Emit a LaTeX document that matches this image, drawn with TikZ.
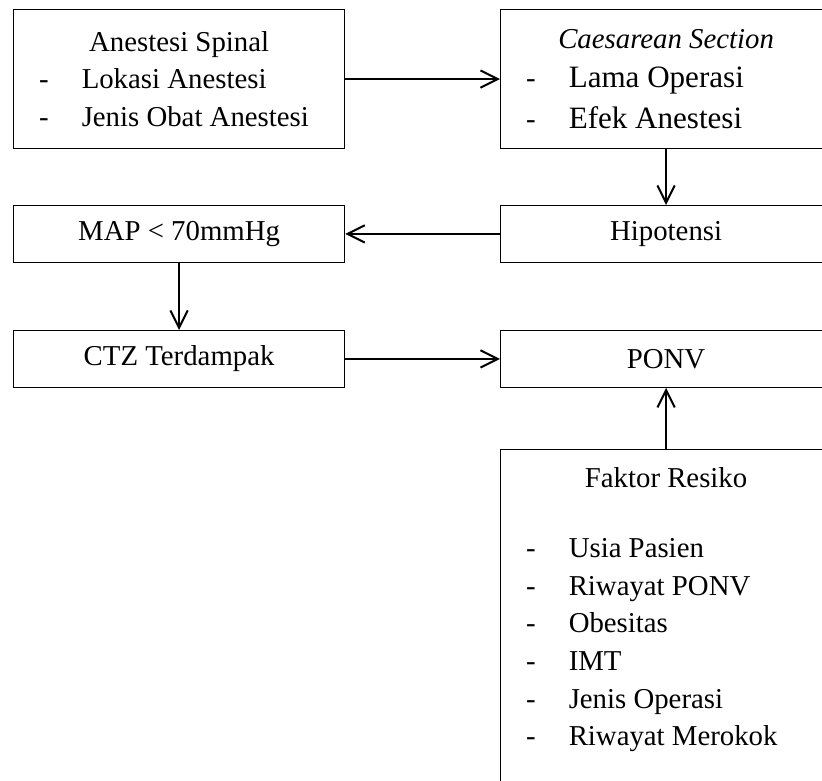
\documentclass[tikz,border=0pt]{standalone}
\usepackage{fontspec}
\setmainfont{Liberation Serif}
\usetikzlibrary{arrows.meta}

\newcommand{\itm}[1]{\makebox[210pt][l]{\makebox[32pt][l]{-}#1}}
\newcommand{\bigitm}[1]{\makebox[210pt][l]{\makebox[32pt][l]{-}{\fontsize{23.3pt}{31pt}\selectfont #1}}}

\tikzset{
  box/.style={draw, line width=0.9pt, minimum width=248.25pt, inner sep=0pt,
    align=center, anchor=north west, font=\fontsize{21.6pt}{28.3pt}\selectfont},
  onebox/.style={box, minimum height=42.5pt},
  arr/.style={line width=1.5pt, -{Straight Barb[length=13pt,width=13pt]}}
}

\begin{document}
\begin{tikzpicture}[x=0.75pt,y=-0.75pt]
            \useasboundingbox (0,0) rectangle (822,781);
            \clip (0,0) rectangle (822,781);

            \node[box, minimum height=104.25pt] (spinal) at (13,9)
                {Anestesi Spinal\\ \itm{Lokasi Anestesi}\\ \itm{Jenis Obat Anestesi}};
            \node[box, minimum height=104.25pt] (caesar) at (500,9)
                {\textit{Caesarean Section}\\[1pt] \bigitm{Lama Operasi}\\[2pt] \bigitm{Efek Anestesi}};

            \node[onebox] (map) at (13,205) {MAP < 70mmHg};
            \node[onebox] (hipo) at (500,205) {Hipotensi};
            \node[onebox] (ctz) at (13,330) {CTZ Terdampak};
            \node[onebox] (ponv) at (500,330) {PONV};

            \node[box, inner ysep=13.5pt, text depth=30pt] (risk) at (500,449)
                {Faktor Resiko\\[24pt]
                 \itm{Usia Pasien}\\ \itm{Riwayat PONV}\\ \itm{Obesitas}\\
                 \itm{IMT}\\ \itm{Jenis Operasi}\\ \itm{Riwayat Merokok}};

            \draw[arr] (spinal.east) -- (caesar.west);
            \draw[arr] (caesar.south) -- (hipo.north);
            \draw[arr] (hipo.west) -- (map.east);
            \draw[arr] (map.south) -- (ctz.north);
            \draw[arr] (ctz.east) -- (ponv.west);
            \draw[arr] (risk.north) -- (ponv.south);
        \end{tikzpicture}
\end{document}
